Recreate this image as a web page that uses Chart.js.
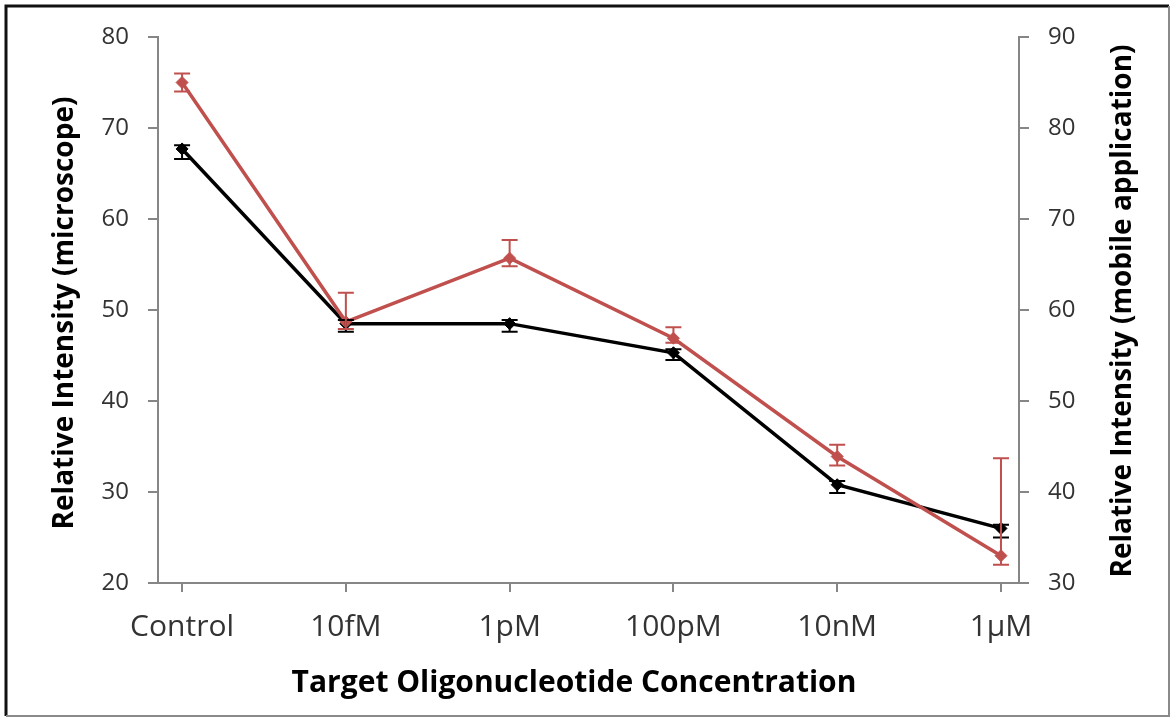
<!DOCTYPE html>
<html>
<head>
<meta charset="utf-8">
<title>Relative Intensity</title>
<script src="https://cdn.jsdelivr.net/npm/chart.js@4.4.1/dist/chart.umd.min.js"></script>
<style>
  body { margin: 0; background: #fff; }
  canvas { display: block; }
</style>
</head>
<body>
<canvas id="chart" width="1173" height="719"></canvas>
<script>
// CHART DATA
const categories = ["Control", "10fM", "1pM", "100pM", "10nM", "1µM"];

// microscope (left axis)
const microscope = [67.7, 48.5, 48.5, 45.3, 30.8, 26.0];
const microscopeErrUp = [0.4, 0.4, 0.4, 0.4, 0.4, 0.4];
const microscopeErrDown = [1.1, 0.9, 0.9, 0.8, 0.9, 1.0];

// mobile application (right axis)
const mobile = [85.0, 58.7, 65.7, 56.9, 43.9, 33.0];
const mobileErrUp = [1.0, 3.2, 2.0, 1.2, 1.3, 10.7];
const mobileErrDown = [1.0, 0.8, 0.9, 0.5, 1.0, 1.0];

const leftTicks = [20, 30, 40, 50, 60, 70, 80];
const rightTicks = [30, 40, 50, 60, 70, 80, 90];

const AXIS_GREY = "#868686";
const RED = "#C0504D";

function toPoints(values) {
  return values.map((v, i) => ({ x: i, y: v }));
}

// error bars drawn on top of the lines
const errorBars = {
  id: "errorBars",
  afterDatasetsDraw(chart) {
    const ctx = chart.ctx;
    const xScale = chart.scales.x;
    chart.data.datasets.forEach((ds) => {
      const yScale = chart.scales[ds.yAxisID];
      ctx.save();
      ctx.strokeStyle = ds.borderColor;
      ctx.lineWidth = 2;
      ds.data.forEach((p, i) => {
        const px = xScale.getPixelForValue(p.x);
        const top = yScale.getPixelForValue(p.y + ds.errUp[i]);
        const bottom = yScale.getPixelForValue(p.y - ds.errDown[i]);
        ctx.beginPath();
        ctx.moveTo(px, top);
        ctx.lineTo(px, bottom);
        ctx.moveTo(px - 8, top);
        ctx.lineTo(px + 8, top);
        ctx.moveTo(px - 8, bottom);
        ctx.lineTo(px + 8, bottom);
        ctx.stroke();
      });
      ctx.restore();
    });
  },
};

// axis titles + outer frame
const titlesAndFrame = {
  id: "titlesAndFrame",
  afterDraw(chart) {
    const ctx = chart.ctx;
    const area = chart.chartArea;
    const midY = (area.top + area.bottom) / 2;
    ctx.save();
    ctx.fillStyle = "#000";
    ctx.font = "bold 28px 'Open Sans'";
    ctx.textAlign = "center";
    ctx.textBaseline = "middle";

    ctx.save();
    ctx.translate(65, midY + 3);
    ctx.rotate(-Math.PI / 2);
    ctx.fillText("Relative Intensity (microscope)", 0, 0);
    ctx.restore();

    ctx.save();
    ctx.translate(1123, midY + 1);
    ctx.rotate(-Math.PI / 2);
    ctx.fillText("Relative Intensity (mobile application)", 0, 0);
    ctx.restore();

    ctx.font = "bold 30px 'Open Sans'";
    ctx.fillText("Target Oligonucleotide Concentration", 574, 683);

    // frame
    ctx.lineWidth = 3;
    ctx.strokeStyle = "#111";
    ctx.beginPath();
    ctx.moveTo(6, 716);
    ctx.lineTo(6, 6);
    ctx.lineTo(1169, 6);
    ctx.stroke();
    ctx.lineWidth = 2;
    ctx.strokeStyle = "#8a8a8a";
    ctx.beginPath();
    ctx.moveTo(1169, 6);
    ctx.lineTo(1169, 716);
    ctx.lineTo(6, 716);
    ctx.stroke();
    ctx.restore();
  },
};

const ctx = document.getElementById("chart").getContext("2d");

new Chart(ctx, {
  type: "line",
  data: {
    datasets: [
      {
        label: "Microscope",
        data: toPoints(microscope),
        errUp: microscopeErrUp,
        errDown: microscopeErrDown,
        yAxisID: "y",
        borderColor: "#000",
        backgroundColor: "#000",
        borderWidth: 3.5,
        pointStyle: "rectRot",
        pointRadius: 6,
        pointBorderWidth: 1,
        tension: 0,
        fill: false,
        order: 1,
      },
      {
        label: "Mobile application",
        data: toPoints(mobile),
        errUp: mobileErrUp,
        errDown: mobileErrDown,
        yAxisID: "y1",
        borderColor: RED,
        backgroundColor: RED,
        borderWidth: 3.5,
        pointStyle: "rectRot",
        pointRadius: 6,
        pointBorderWidth: 1,
        tension: 0,
        fill: false,
        order: 0,
      },
    ],
  },
  options: {
    responsive: false,
    animation: false,
    devicePixelRatio: 1,
    layout: { padding: { top: 37, left: 0, right: 0, bottom: 0 } },
    plugins: {
      legend: { display: false },
      tooltip: { enabled: false },
    },
    scales: {
      x: {
        type: "linear",
        min: -0.147,
        max: 5.11,
        afterBuildTicks: (scale) => {
          scale.ticks = categories.map((c, i) => ({ value: i }));
        },
        afterFit: (scale) => {
          scale.height = 136;
        },
        ticks: {
          callback: (value) => categories[value],
          color: "#333",
          font: { family: "'Open Sans'", size: 30 },
          padding: 17,
          maxRotation: 0,
          autoSkip: false,
        },
        grid: { display: true, drawOnChartArea: false, color: AXIS_GREY, lineWidth: 2, tickLength: 9 },
        border: { display: true, color: AXIS_GREY, width: 2 },
      },
      y: {
        position: "left",
        min: leftTicks[0],
        max: leftTicks[leftTicks.length - 1],
        afterBuildTicks: (scale) => {
          scale.ticks = leftTicks.map((v) => ({ value: v }));
        },
        afterFit: (scale) => {
          scale.width = 158;
        },
        ticks: {
          color: "#333",
          font: { family: "'Open Sans'", size: 24 },
          padding: 19,
        },
        grid: { display: true, drawOnChartArea: false, color: AXIS_GREY, lineWidth: 2, tickLength: 10 },
        border: { display: true, color: AXIS_GREY, width: 2 },
      },
      y1: {
        position: "right",
        min: rightTicks[0],
        max: rightTicks[rightTicks.length - 1],
        afterBuildTicks: (scale) => {
          scale.ticks = rightTicks.map((v) => ({ value: v }));
        },
        afterFit: (scale) => {
          scale.width = 154;
        },
        ticks: {
          color: "#333",
          font: { family: "'Open Sans'", size: 24 },
          padding: 19,
        },
        grid: { display: true, drawOnChartArea: false, color: AXIS_GREY, lineWidth: 2, tickLength: 10 },
        border: { display: true, color: AXIS_GREY, width: 2 },
      },
    },
  },
  plugins: [errorBars, titlesAndFrame],
});
</script>
</body>
</html>
